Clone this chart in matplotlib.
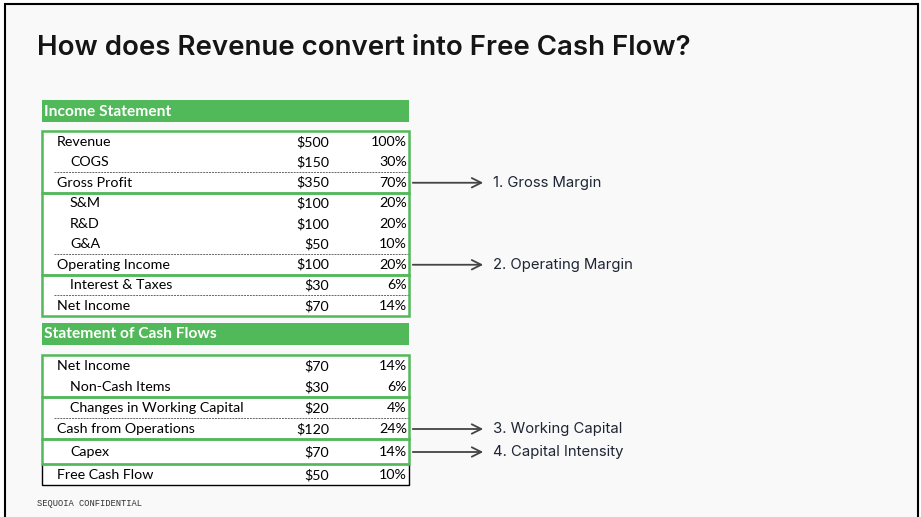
import matplotlib.pyplot as plt
from matplotlib.patches import Rectangle

# --- data ---
title = "How does Revenue convert into Free Cash Flow?"

income_labels = ["Revenue", "COGS", "Gross Profit", "S&M", "R&D", "G&A",
                 "Operating Income", "Interest & Taxes", "Net Income"]
income_values = ["$500", "$150", "$350", "$100", "$100", "$50", "$100", "$30", "$70"]
income_pcts = ["100%", "30%", "70%", "20%", "20%", "10%", "20%", "6%", "14%"]
income_indent = [0, 1, 0, 1, 1, 1, 0, 1, 0]

cash_labels = ["Net Income", "Non-Cash Items", "Changes in Working Capital",
               "Cash from Operations", "Capex", "Free Cash Flow"]
cash_values = ["$70", "$30", "$20", "$120", "$70", "$50"]
cash_pcts = ["14%", "6%", "4%", "24%", "14%", "10%"]
cash_indent = [0, 1, 1, 0, 1, 0]

# arrows: (table, row index, text)
notes = [(0, 2, "1. Gross Margin"), (0, 6, "2. Operating Margin"),
         (1, 3, "3. Working Capital"), (1, 4, "4. Capital Intensity")]

# --- layout (pixels) ---
GREEN = "#52b95a"
BG = "#f9f9f9"
X0, X1 = 42, 409
TFONT = ["Lato", "DejaVu Sans"]
TSIZE = 10.3

fig = plt.figure(figsize=(9.21, 5.17), dpi=100)
fig.patch.set_facecolor("white")
ax = fig.add_axes([0, 0, 1, 1])
ax.set_xlim(0, 921)
ax.set_ylim(517, 0)
ax.axis("off")

# slide frame
ax.add_patch(Rectangle((5, 4), 913, 520, facecolor=BG, edgecolor="black", lw=1.5))

ax.text(37, 48, title, fontsize=19.9, fontweight="semibold", family=["Inter", "DejaVu Sans"],
        color="#151515", va="center", ha="left")

ax.text(37, 503, "SEQUOIA CONFIDENTIAL", fontsize=6.3, family="Liberation Mono",
        color="#333333", va="center", ha="left")


def draw_table(header, header_top, top, heights, labels, values, pcts, indent,
               boxes, dashed, last_black=False):
    # green header bar
    ax.add_patch(Rectangle((X0, header_top), X1 - X0, 22, facecolor=GREEN, edgecolor="none"))
    ax.text(X0 + 1.5, header_top + 11.5, header, fontsize=11.2, fontweight="bold",
            color="white", family=TFONT, va="center", ha="left")

    edges = [top]
    for h in heights:
        edges.append(edges[-1] + h)
    ax.add_patch(Rectangle((X0, top), X1 - X0, edges[-1] - top, facecolor="white",
                           edgecolor="none"))

    centers = []
    for i, lab in enumerate(labels):
        yc = (edges[i] + edges[i + 1]) / 2 + 0.5
        centers.append(yc)
        ax.text(57 + 13 * indent[i], yc, lab, fontsize=TSIZE, family=TFONT,
                color="black", va="center", ha="left")
        ax.text(329, yc, values[i], fontsize=TSIZE, family=TFONT, color="black",
                va="center", ha="right")
        ax.text(407, yc, pcts[i], fontsize=TSIZE, family=TFONT, color="black",
                va="center", ha="right")

    for r in dashed:
        ax.plot([54, X1], [edges[r + 1], edges[r + 1]], color="#666666", lw=0.7,
                ls=(0, (2, 1)))

    for k, (a, b) in enumerate(boxes):
        col = "black" if (last_black and k == len(boxes) - 1) else GREEN
        lw = 1 if col == "black" else 1.8
        ax.add_patch(Rectangle((X0, edges[a]), X1 - X0, edges[b + 1] - edges[a],
                               facecolor="none", edgecolor=col, lw=lw, zorder=3 if col == GREEN else 2))
    return centers


c1 = draw_table("Income Statement", 100, 131, [20.5] * 9, income_labels, income_values,
                income_pcts, income_indent, [(0, 2), (3, 6), (7, 8)], [1, 5, 7])
c2 = draw_table("Statement of Cash Flows", 323, 355, [21, 21, 21, 21, 25, 21], cash_labels,
                cash_values, cash_pcts, cash_indent, [(0, 1), (2, 3), (4, 4), (5, 5)], [2],
                last_black=True)

centers = [c1, c2]
for t, r, txt in notes:
    y = centers[t][r]
    ax.annotate("", xy=(486, y), xytext=(X1 + 1, y),
                arrowprops=dict(arrowstyle="->", color="#444444", lw=1.3,
                                mutation_scale=17))
    ax.text(493, y, txt, fontsize=10.7, family=["Inter", "DejaVu Sans"], color="#1e2533",
            va="center", ha="left")

fig.savefig("out.png", dpi=100, facecolor="white")
